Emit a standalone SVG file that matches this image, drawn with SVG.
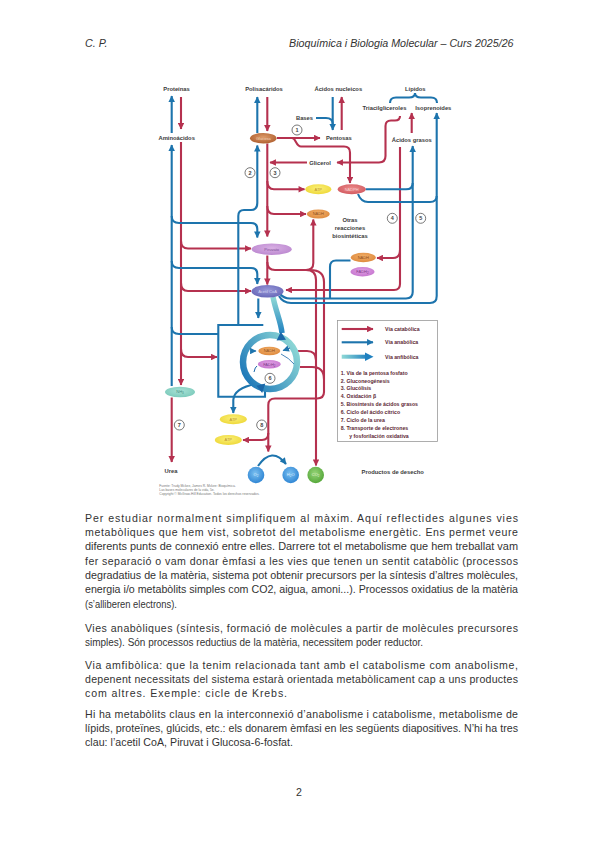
<svg xmlns="http://www.w3.org/2000/svg" width="599" height="848" viewBox="0 0 599 848">
<defs>
<style>
.hd{font-family:"Liberation Sans",Arial,sans-serif;font-style:italic;font-size:10.7px;fill:#333}
.bt{font-family:"Liberation Sans",Arial,sans-serif;font-size:10.6px;fill:#333}
.lb{font-family:"Liberation Sans",Arial,sans-serif;font-weight:bold;font-size:5.8px;fill:#3a3a3a;text-anchor:middle}
.el{font-family:"Liberation Sans",Arial,sans-serif;font-size:4px;text-anchor:middle}
.nc circle{fill:#fff;stroke:#555;stroke-width:0.8}
.nc text{font-family:"Liberation Sans",Arial,sans-serif;font-weight:bold;font-size:5.5px;fill:#444;text-anchor:middle}
.r{fill:none;stroke:#b5314f;stroke-width:2.1}
.b{fill:none;stroke:#1d74ad;stroke-width:2.1}
.ra{marker-end:url(#ar)}
.ba{marker-end:url(#ab)}
.lg{font-family:"Liberation Sans",Arial,sans-serif;font-weight:bold;font-size:5.2px;fill:#5c2733}
.src{font-family:"Liberation Sans",Arial,sans-serif;font-size:3.3px;fill:#777}
</style>
<marker id="ar" viewBox="0 0 6 6" refX="5.5" refY="3" markerWidth="7" markerHeight="6.5" markerUnits="userSpaceOnUse" orient="auto"><path d="M0,0 L6,3 L0,6 z" fill="#b5314f"/></marker>
<marker id="ab" viewBox="0 0 6 6" refX="5.5" refY="3" markerWidth="7" markerHeight="6.5" markerUnits="userSpaceOnUse" orient="auto"><path d="M0,0 L6,3 L0,6 z" fill="#1d74ad"/></marker>
<linearGradient id="ringG" gradientUnits="userSpaceOnUse" x1="243" y1="380" x2="297" y2="345"><stop offset="0" stop-color="#1b76b8"/><stop offset="1" stop-color="#8fd9d6"/></linearGradient>
<linearGradient id="tealV" gradientUnits="userSpaceOnUse" x1="0" y1="297" x2="0" y2="334"><stop offset="0" stop-color="#8fd9d6"/><stop offset="1" stop-color="#1f80c0"/></linearGradient>
<linearGradient id="tealH" gradientUnits="userSpaceOnUse" x1="341.7" y1="0" x2="368" y2="0"><stop offset="0" stop-color="#8fd9d6"/><stop offset="1" stop-color="#1f80c0"/></linearGradient>
<radialGradient id="gGlu" cx="0.5" cy="0.4" r="0.6"><stop offset="0" stop-color="#dd9a6a"/><stop offset="1" stop-color="#b0602f"/></radialGradient>
<radialGradient id="gAtp" cx="0.5" cy="0.4" r="0.6"><stop offset="0" stop-color="#fbf07a"/><stop offset="1" stop-color="#eed838"/></radialGradient>
<radialGradient id="gNadph" cx="0.5" cy="0.4" r="0.6"><stop offset="0" stop-color="#ec8a8a"/><stop offset="1" stop-color="#d25a60"/></radialGradient>
<radialGradient id="gNadh" cx="0.5" cy="0.4" r="0.6"><stop offset="0" stop-color="#f2b06a"/><stop offset="1" stop-color="#de8a3e"/></radialGradient>
<radialGradient id="gFad" cx="0.5" cy="0.4" r="0.6"><stop offset="0" stop-color="#e0a0e4"/><stop offset="1" stop-color="#c676cf"/></radialGradient>
<radialGradient id="gPir" cx="0.5" cy="0.4" r="0.6"><stop offset="0" stop-color="#d9b0e4"/><stop offset="1" stop-color="#bc88d0"/></radialGradient>
<radialGradient id="gAce" cx="0.5" cy="0.4" r="0.6"><stop offset="0" stop-color="#9898d8"/><stop offset="1" stop-color="#6767b8"/></radialGradient>
<radialGradient id="gNh3" cx="0.5" cy="0.4" r="0.6"><stop offset="0" stop-color="#a8e2d6"/><stop offset="1" stop-color="#7ccabb"/></radialGradient>
<radialGradient id="gBlue" cx="0.45" cy="0.4" r="0.6"><stop offset="0" stop-color="#7cc0f0"/><stop offset="1" stop-color="#2f86d4"/></radialGradient>
<radialGradient id="gGreen" cx="0.45" cy="0.4" r="0.6"><stop offset="0" stop-color="#96d478"/><stop offset="1" stop-color="#56a83a"/></radialGradient>
</defs>
<rect width="599" height="848" fill="#fff"/>

<g id="header">
<text class="hd" x="85" y="47">C. P.</text>
<text class="hd" x="289" y="47">Bioquímica i Biologia Molecular – Curs 2025/26</text>
</g>

<g id="connectors">
<path class="r ra" d="M181,97 L181,129"/>
<path class="r ra" d="M267.3,97 L267.3,131"/>
<path class="r ra" d="M341.7,130 L341.7,97"/>
<path class="r ra" d="M277,138 L320,138"/>
<path class="r ra" d="M292,138 C296,138 296,146.5 301,146.5 L344,146.5 Q350,146.5 350,152.5 L350,183"/>
<path class="r ra" d="M267.3,143.5 L267.3,236.5"/>
<path class="r ra" d="M307,162.5 L270,162.5"/>
<path class="r ra" d="M267.3,181 Q267.3,189.3 274,189.3 L304.5,189.3"/>
<path class="r ra" d="M267.3,206 Q267.3,214 274,214 L306,214"/>
<path class="r ra" d="M400,116 Q400,120.5 395,120.5 L391,120.5 Q385.5,120.5 385.5,126 L385.5,156 Q385.5,162.5 379,162.5 L337,162.5"/>
<path class="r ra" d="M411.7,133 L411.7,113"/>
<path class="r ra" d="M400,147 L400,284 Q400,290 394,290 L286,290"/>
<path class="r ra" d="M400,250 Q400,258 393,258 L377,258"/>
<path class="r ra" d="M181,142 L181,385"/>
<path class="r ra" d="M181,241 Q181,248.5 188,248.5 L251,248.5"/>
<path class="r ra" d="M181,283 Q181,291 188,291 L251,291"/>
<path class="r ra" d="M181,349 Q181,357 188,357 L217,357"/>
<path class="r ra" d="M171.7,397.5 L171.7,462"/>
<path class="r ra" d="M267.3,255.5 L267.3,284.5"/>
<path class="r ra" d="M267.3,262 Q267.3,270 275,270 L306,270 Q313.3,270 313.3,263 L313.3,219.5"/>
<path class="r ra" d="M306,270 Q316,270 316,280 L316,465.5"/>
<path class="r ra" d="M310,270 Q324,270 324,282 L324,392 Q324,398.5 317,398.5 L275,398.5 Q268.3,398.5 268.3,405 L268.3,451.5"/>
<path class="r ra" d="M268.3,433 Q268.3,440 262,440 L243,440"/>
<path class="r" d="M298,351 L307,351 Q316,351 316,360"/>
<path class="r" d="M300,367 L312,367 Q324,367 324,379"/>

<path class="b ba" d="M171.7,133 L171.7,96"/>
<path class="b ba" d="M257.3,133 L257.3,97"/>
<path class="b ba" d="M332.7,97 L332.7,130"/>
<path class="b" d="M316,118 L326,118 Q332.7,118 332.7,124"/>
<path class="b" stroke-width="1.6" d="M390,103 Q390,97.5 396,97.5 L409,97.5 Q415,97.5 415,93 Q415,97.5 421,97.5 L431,97.5 Q437,97.5 437,103"/>
<path class="b ba" d="M279,296 Q283,303 291,303 L430,303 Q436.7,303 436.7,296 L436.7,113"/>
<path class="b ba" d="M280,294 Q284,298.5 290,298.5 L406,298.5 Q412.7,298.5 412.7,292 L412.7,146"/>
<path class="b" d="M365.5,189.3 L406,189.3 Q412.7,189.3 412.7,183"/>
<path class="b" d="M358,194 Q361,202 368,202 L430,202 Q436.7,202 436.7,196"/>
<path class="b" d="M350.5,260.5 L336,260.5 Q330,260.5 330,267 L330,298.5"/>
<path class="b ba" d="M238.3,325 L238.3,216 Q238.3,210 244,210 L251,210 Q257.3,210 257.3,203 L257.3,145.5"/>
<path class="b ba" d="M171.7,386 L171.7,145"/>
<path class="b ba" d="M171.7,216 Q171.7,223 179,223 L251,223 Q257.3,223 257.3,229 L257.3,237.5"/>
<path class="b ba" d="M171.7,261 Q171.7,268 179,268 L251,268 Q257.3,268 257.3,274 L257.3,284"/>
<path class="b" d="M171.7,327 Q171.7,334 179,334 L218.3,334"/>
<path class="b" d="M263.3,325 L218.3,325 L218.3,396.7 L265,396.7 L265,391"/>
<path class="b ba" d="M258.3,298.5 L258.3,318"/>
<path class="b ba" d="M256,384 C245,386 234,390 233.3,400 L233.3,413"/>
<path class="b ba" stroke-width="2.5" d="M258,466 Q272,446 286,464"/>

<path d="M273,297 C276,312 281,322 282,333" fill="none" stroke="url(#tealV)" stroke-width="5.5"/>
</g>

<g id="cycle">
<circle cx="270" cy="362" r="27" fill="none" stroke="url(#ringG)" stroke-width="6.5"/>
<polygon points="286,339.7 276.6,340.6 280.8,331.8" fill="#1a66a8"/>
<polygon points="256.4,385.8 265.3,383.6 262.2,393" fill="#1a66a8"/>
<path d="M251,351 L256,351" stroke="#1a66a8" stroke-width="1" marker-end="url(#ab)"/>
<path d="M290,348 L283,350.5" stroke="#1a66a8" stroke-width="1" marker-end="url(#ab)"/>
<path d="M254,372 Q255,367 257,366" fill="none" stroke="#1a66a8" stroke-width="1"/>
<path d="M281,354 Q289,358 294,364" fill="none" stroke="#1a66a8" stroke-width="0.8"/>
</g>

<g id="glucosa"><ellipse cx="263.3" cy="138.3" rx="13.3" ry="5.2" fill="url(#gGlu)"/><text class="el" x="263.3" y="139.7" fill="#f4d7bf">Glucosa</text></g>
<g id="piruvato"><ellipse cx="271.7" cy="249.2" rx="20" ry="5.8" fill="url(#gPir)"/><text class="el" x="271.7" y="250.6" fill="#7d4f96">Piruvato</text></g>
<g id="acetilcoa"><ellipse cx="267.5" cy="291.3" rx="16" ry="6.3" fill="url(#gAce)"/><text class="el" x="267.5" y="292.7" fill="#d4d4f2">Acetil CoA</text></g>
<g id="atp1"><ellipse cx="318.3" cy="189.3" rx="13" ry="5" fill="url(#gAtp)"/><text class="el" x="318.3" y="190.7" fill="#b8902a">ATP</text></g>
<g id="nadph"><ellipse cx="351.7" cy="189.3" rx="14" ry="5" fill="url(#gNadph)"/><text class="el" x="351.7" y="190.7" fill="#f7d2d2">NADPH</text></g>
<g id="nadh1"><ellipse cx="318.3" cy="214" rx="11.5" ry="4.6" fill="url(#gNadh)"/><text class="el" x="318.3" y="215.4" fill="#8c4a18">NADH</text></g>
<g id="nadh2"><ellipse cx="363.3" cy="257.5" rx="12.5" ry="4.7" fill="url(#gNadh)"/><text class="el" x="363.3" y="258.9" fill="#8c4a18">NADH</text></g>
<g id="fadh2a"><ellipse cx="362.5" cy="271.8" rx="12" ry="4.7" fill="url(#gFad)"/><text class="el" x="362.5" y="273.2" fill="#7a3a88">FADH<tspan font-size="3" dy="0.8">2</tspan></text></g>
<g id="nadh3"><ellipse cx="269.3" cy="351" rx="11" ry="4.2" fill="url(#gNadh)"/><text class="el" x="269.3" y="352.4" fill="#8c4a18">NADH</text></g>
<g id="fadh2b"><ellipse cx="269.3" cy="364.3" rx="11.5" ry="4.2" fill="url(#gFad)"/><text class="el" x="269.3" y="365.7" fill="#7a3a88">FADH<tspan font-size="3" dy="0.8">2</tspan></text></g>
<g id="nh3"><ellipse cx="180" cy="392" rx="15" ry="5.3" fill="url(#gNh3)"/><text class="el" x="180" y="393.4" fill="#3e8c80">NH<tspan font-size="3" dy="0.8">3</tspan></text></g>
<g id="atp2"><ellipse cx="233.3" cy="419.3" rx="13.5" ry="5" fill="url(#gAtp)"/><text class="el" x="233.3" y="420.7" fill="#b8902a">ATP</text></g>
<g id="atp3"><ellipse cx="228.3" cy="440" rx="13.5" ry="5" fill="url(#gAtp)"/><text class="el" x="228.3" y="441.4" fill="#b8902a">ATP</text></g>
<g id="o2"><circle cx="256" cy="475" r="8.3" fill="url(#gBlue)"/><text class="el" x="256" y="476.4" fill="#dcefff">O<tspan font-size="3" dy="0.8">2</tspan></text></g>
<g id="h2o"><circle cx="290.7" cy="475" r="8.3" fill="url(#gBlue)"/><text class="el" x="290.7" y="476.4" fill="#dcefff">H<tspan font-size="3" dy="0.8">2</tspan><tspan dy="-0.8">O</tspan></text></g>
<g id="co2"><circle cx="315.7" cy="475" r="8.3" fill="url(#gGreen)"/><text class="el" x="315.7" y="476.4" fill="#e4f4da">CO<tspan font-size="3" dy="0.8">2</tspan></text></g>

<g id="labels">
<text class="lb" x="176.5" y="91">Proteínas</text>
<text class="lb" x="264" y="91">Polisacáridos</text>
<text class="lb" x="338.3" y="91">Ácidos nucleicos</text>
<text class="lb" x="415.3" y="91">Lípidos</text>
<text class="lb" x="304.5" y="120">Bases</text>
<text class="lb" x="384.5" y="110.3">Triacilgliceroles</text>
<text class="lb" x="433.3" y="110.3">Isoprenoides</text>
<text class="lb" x="176.7" y="140.3">Aminoácidos</text>
<text class="lb" x="338.8" y="140.3">Pentosas</text>
<text class="lb" x="411.7" y="142">Ácidos grasos</text>
<text class="lb" x="320" y="164.5">Glicerol</text>
<text class="lb" x="350" y="222">Otras</text>
<text class="lb" x="350" y="229.8">reacciones</text>
<text class="lb" x="350" y="237.6">biosintéticas</text>
<text class="lb" x="171" y="473">Urea</text>
<text class="lb" x="392.7" y="473.5">Productos de desecho</text>
</g>

<g id="numbers" class="nc">
<g id="n1"><circle cx="297" cy="130" r="5"/><text x="297" y="132">1</text></g>
<g id="n2"><circle cx="250" cy="172.7" r="5"/><text x="250" y="174.7">2</text></g>
<g id="n3"><circle cx="275" cy="172.7" r="5"/><text x="275" y="174.7">3</text></g>
<g id="n4"><circle cx="392.3" cy="218.3" r="5"/><text x="392.3" y="220.3">4</text></g>
<g id="n5"><circle cx="420.7" cy="218.3" r="5"/><text x="420.7" y="220.3">5</text></g>
<g id="n6"><circle cx="270" cy="378.3" r="5"/><text x="270" y="380.3">6</text></g>
<g id="n7"><circle cx="179.3" cy="425" r="5"/><text x="179.3" y="427">7</text></g>
<g id="n8"><circle cx="261.7" cy="425" r="5"/><text x="261.7" y="427">8</text></g>
</g>

<g id="legend">
<rect x="337.5" y="320.5" width="100" height="121" fill="#fff" stroke="#999" stroke-width="0.8"/>
<path class="r ra" d="M341.7,329 L373,329"/>
<path class="b ba" d="M341.7,342.3 L373,342.3"/>
<path d="M341.7,356.7 L366,356.7" stroke="url(#tealH)" stroke-width="4"/>
<polygon points="365,352.5 373.5,356.7 365,361" fill="#1f80c0"/>
<text class="lg" x="385" y="331">Vía catabólica</text>
<text class="lg" x="385" y="344.3">Vía anabólica</text>
<text class="lg" x="385" y="358.7">Vía anfibólica</text>
<text class="lg" x="340.7" y="374.5">1. Vía de la pentosa fosfato</text>
<text class="lg" x="340.7" y="382.5">2. Gluconeogénesis</text>
<text class="lg" x="340.7" y="390.4">3. Glucólisis</text>
<text class="lg" x="340.7" y="398.4">4. Oxidación β</text>
<text class="lg" x="340.7" y="406.3">5. Biosíntesis de ácidos grasos</text>
<text class="lg" x="340.7" y="414.3">6. Ciclo del ácido cítrico</text>
<text class="lg" x="340.7" y="422.3">7. Ciclo de la urea</text>
<text class="lg" x="340.7" y="430.2">8. Transporte de electrones</text>
<text class="lg" x="349.3" y="438.2">y fosforilación oxidativa</text>
</g>

<g id="source">
<text class="src" x="159.3" y="487">Fuente: Trudy Mckee, James R. Mckee: Bioquímica.</text>
<text class="src" x="159.3" y="491">Las bases moleculares de la vida, 5e.</text>
<text class="src" x="159.3" y="495">Copyright © McGraw-Hill Education. Todos los derechos reservados.</text>
</g>

<g id="body">
<text class="bt" x="85" y="521.8" textLength="433">Per estudiar normalment simplifiquem al màxim. Aquí reflectides algunes vies</text>
<text class="bt" x="85" y="536.1" textLength="433">metabòliques que hem vist, sobretot del metabolisme energètic. Ens permet veure</text>
<text class="bt" x="85" y="550.4" textLength="433" lengthAdjust="spacingAndGlyphs">diferents punts de connexió entre elles. Darrere tot el metabolisme que hem treballat vam</text>
<text class="bt" x="85" y="564.7" textLength="433">fer separació o vam donar èmfasi a les vies que tenen un sentit catabòlic (processos</text>
<text class="bt" x="85" y="579" textLength="433" lengthAdjust="spacingAndGlyphs">degradatius de la matèria, sistema pot obtenir precursors per la síntesis d’altres molècules,</text>
<text class="bt" x="85" y="593.3" textLength="433" lengthAdjust="spacingAndGlyphs">energia i/o metabòlits simples com CO2, aigua, amoni...). Processos oxidatius de la matèria</text>
<text class="bt" x="85" y="607.6" textLength="92" lengthAdjust="spacingAndGlyphs">(s’alliberen electrons).</text>
<text class="bt" x="85" y="631.5" textLength="433">Vies anabòliques (síntesis, formació de molècules a partir de molècules precursores</text>
<text class="bt" x="85" y="645.8" textLength="338" lengthAdjust="spacingAndGlyphs">simples). Són processos reductius de la matèria, necessitem poder reductor.</text>
<text class="bt" x="85" y="668.5" textLength="433">Via amfibòlica: que la tenim relacionada tant amb el catabolisme com anabolisme,</text>
<text class="bt" x="85" y="682.8" textLength="433">depenent necessitats del sistema estarà orientada metabòlicament cap a uns productes</text>
<text class="bt" x="85" y="697.1" textLength="202">com altres. Exemple: cicle de Krebs.</text>
<text class="bt" x="85" y="717.5" textLength="433">Hi ha metabòlits claus en la interconnexió d’anabolisme i catabolisme, metabolisme de</text>
<text class="bt" x="85" y="731.8" textLength="433" lengthAdjust="spacingAndGlyphs">lípids, proteïnes, glúcids, etc.: els donarem èmfasi en les següents diapositives. N’hi ha tres</text>
<text class="bt" x="85" y="746.1" textLength="208">clau: l’acetil CoA, Piruvat i Glucosa-6-fosfat.</text>
</g>

<g id="footer">
<text class="bt" x="299" y="796" text-anchor="middle" font-size="10.5">2</text>
</g>
</svg>
